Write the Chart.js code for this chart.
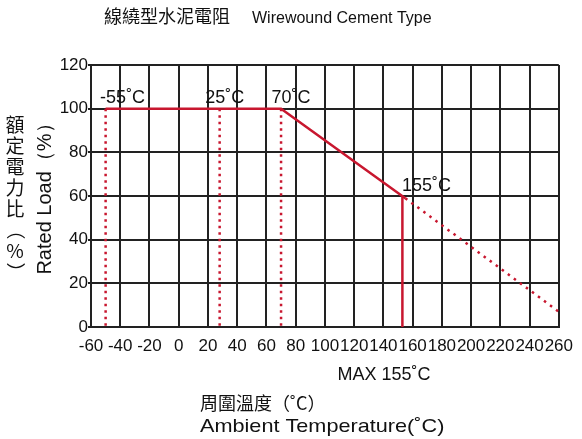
<!DOCTYPE html>
<html>
<head>
<meta charset="utf-8">
<script src="https://cdn.jsdelivr.net/npm/chart.js@4"></script>
<style>
  body { margin: 0; background: #fff; }
  #wrap { width: 582px; height: 439px; }
</style>
</head>
<body>
<div id="wrap"><canvas id="chart" width="582" height="439"></canvas></div>
<script>
// data
var flatTemps = [-50, 70, 155];
var flatLoads = [100, 100, 59];
var derateTemps = [155, 260];
var derateLoads = [59, 7];
var markerTemps = [-50, 28, 70];
var markerLabels = ['-55˚C', '25˚C', '70˚C'];
var maxTemp = 153;
var maxLoad = 60;
var xMin = -60, xMax = 260, xStep = 20;
var yMin = 0, yMax = 120, yStep = 20;

var red = '#c8172f';
var latin = '"Liberation Sans", Arial, sans-serif';
var cjk = '"Noto Sans CJK TC", "Noto Sans CJK SC", sans-serif';

function pts(xs, ys) {
  return xs.map(function(x, i) { return { x: x, y: ys[i] }; });
}

var datasets = [
  { data: pts(flatTemps, flatLoads), borderColor: red, borderWidth: 2.5 },
  { data: pts(derateTemps, derateLoads), borderColor: red, borderWidth: 2.5, borderDash: [2.5, 5] },
  { data: pts([maxTemp, maxTemp], [0, maxLoad]), borderColor: red, borderWidth: 2.5 }
];
markerTemps.forEach(function(t) {
  datasets.push({ data: pts([t, t], [flatLoads[0], 0]), borderColor: red, borderWidth: 2.5, borderDash: [2.5, 4] });
});

var textPlugin = {
  id: 'texts',
  afterDraw: function(chart) {
    var ctx = chart.ctx;
    var xs = chart.scales.x, ys = chart.scales.y;
    ctx.save();
    ctx.fillStyle = '#111';
    ctx.textBaseline = 'alphabetic';

    // title
    ctx.textAlign = 'left';
    ctx.font = '18px ' + cjk;
    ctx.fillText('線繞型水泥電阻', 104, 23);
    ctx.font = '16px ' + latin;
    ctx.fillText('Wirewound Cement Type', 252, 23);

    // marker labels
    var offs = [17, 5, 10];
    ctx.font = '18px ' + latin;
    ctx.textAlign = 'center';
    markerTemps.forEach(function(t, i) {
      ctx.fillText(markerLabels[i], xs.getPixelForValue(t) + offs[i], ys.getPixelForValue(flatLoads[0]) - 6);
    });
    ctx.fillText('155˚C', xs.getPixelForValue(maxTemp) + 24, ys.getPixelForValue(maxLoad) - 5);

    // x titles
    ctx.fillText('MAX 155˚C', 384, 380);
    ctx.textAlign = 'left';
    ctx.font = '18px ' + cjk;
    ctx.fillText('周圍溫度（˚C）', 200, 410);
    ctx.save();
    ctx.translate(200, 432);
    ctx.scale(1.14, 1);
    ctx.font = '19px ' + latin;
    ctx.fillText('Ambient Temperature(˚C)', 0, 0);
    ctx.restore();

    // y titles
    ctx.font = '19px ' + cjk;
    ctx.textAlign = 'center';
    ctx.textBaseline = 'middle';
    var chars = ['額', '定', '電', '力', '比', '（', '%', '）'];
    chars.forEach(function(c, i) {
      if (c === '（' || c === '）') {
        ctx.save();
        ctx.translate(15, 125 + i * 21);
        ctx.rotate(Math.PI / 2);
        ctx.fillText(c, 0, 0);
        ctx.restore();
      } else {
        ctx.fillText(c, 15, 125 + i * 21);
      }
    });
    ctx.save();
    ctx.translate(45, 194);
    ctx.rotate(-Math.PI / 2);
    ctx.font = '20px ' + latin;
    ctx.fillText('Rated Load（%）', 0, 0);
    ctx.restore();
    ctx.restore();
  }
};

new Chart(document.getElementById('chart'), {
  type: 'line',
  data: { datasets: datasets },
  options: {
    responsive: false,
    animation: false,
    layout: { padding: { top: 65, right: 14, left: 0, bottom: 0 } },
    elements: { point: { radius: 0 }, line: { tension: 0 } },
    plugins: { legend: { display: false }, tooltip: { enabled: false } },
    scales: {
      x: {
        type: 'linear',
        min: xMin, max: xMax,
        afterFit: function(s) { s.height = 112; },
        grid: { color: '#222', lineWidth: 2, drawTicks: false },
        border: { color: '#222', width: 2 },
        ticks: { stepSize: xStep, autoSkip: false, maxRotation: 0, padding: 9, color: '#111', font: { family: latin, size: 17 } }
      },
      y: {
        min: yMin, max: yMax,
        afterFit: function(s) { s.width = 91; },
        grid: { color: '#222', lineWidth: 2, tickLength: 3 },
        border: { color: '#222', width: 2 },
        ticks: { stepSize: yStep, padding: 0, color: '#111', font: { family: latin, size: 17 } }
      }
    }
  },
  plugins: [textPlugin]
});
</script>
</body>
</html>
